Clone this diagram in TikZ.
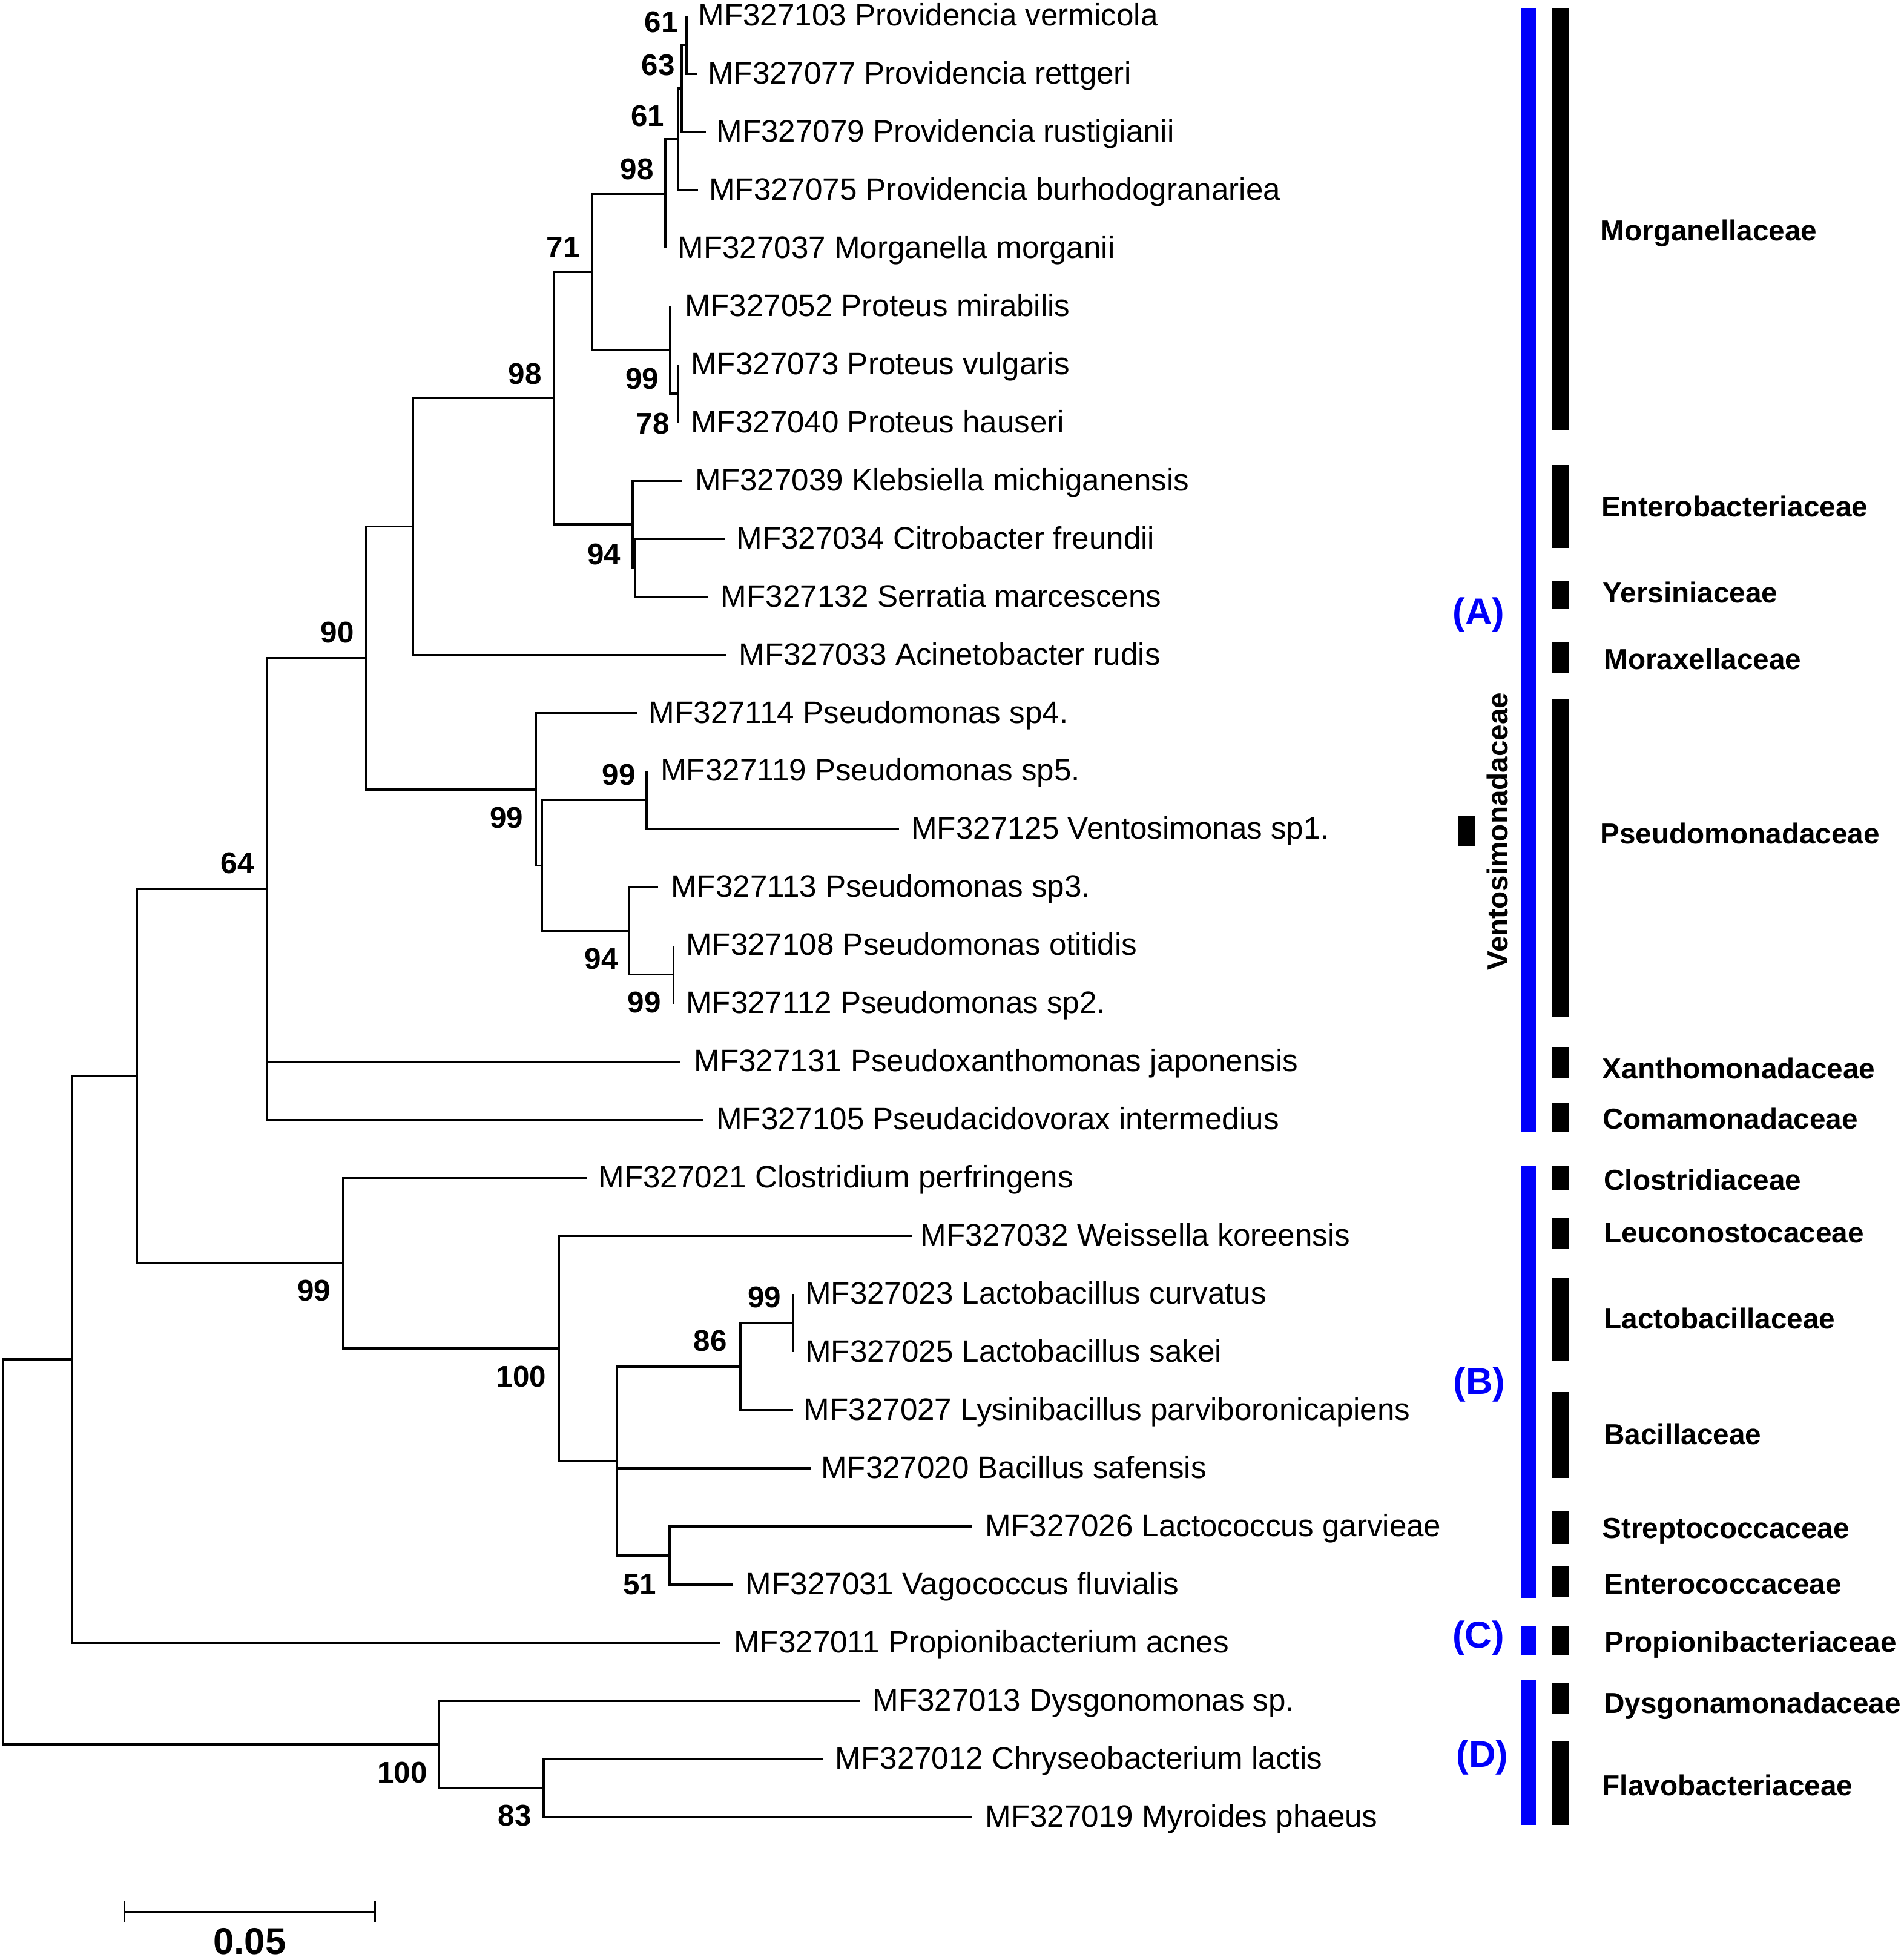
\documentclass[tikz,border=0pt]{standalone}
\usepackage{fontspec}
\setmainfont{Liberation Sans}
\begin{document}
\begin{tikzpicture}[x=0.02cm,y=-0.02cm,
  branch/.style={line width=1pt},
  taxon/.style={anchor=base west,inner sep=0pt,yshift=-0.158cm,font=\fontsize{14.1pt}{14.1pt}\selectfont},
  boot/.style={anchor=center,inner sep=0pt,font=\bfseries\fontsize{13.6pt}{13.6pt}\selectfont},
  fam/.style={anchor=base west,inner sep=0pt,font=\bfseries\fontsize{13.15pt}{13.15pt}\selectfont},
  cladelab/.style={anchor=center,inner sep=0pt,text=cladeblue,font=\bfseries\fontsize{17pt}{17pt}\selectfont},
  bluebar/.style={fill=cladeblue},
  blackbar/.style={fill=black}]
\definecolor{cladeblue}{RGB}{0,0,250}
\fill[white] (0,0) rectangle (1523,1568);
\useasboundingbox (0,0) rectangle (1523,1568);

% leaf ends
\coordinate (l1) at (549.4,12.7);
\coordinate (l2) at (557.9,59.2);
\coordinate (l3) at (564.7,105.7);
\coordinate (l4) at (558.5,152.1);
\coordinate (l5) at (532.4,198.6);
\coordinate (l6) at (536,245.1);
\coordinate (l7) at (542.6,291.6);
\coordinate (l8) at (542.6,338.1);
\coordinate (l9) at (546,384.5);
\coordinate (l10) at (580,431.0);
\coordinate (l11) at (566.4,477.5);
\coordinate (l12) at (581.2,524.0);
\coordinate (l13) at (509.6,570.5);
\coordinate (l14) at (517.2,616.9);
\coordinate (l15) at (719.3,663.4);
\coordinate (l16) at (526.7,709.9);
\coordinate (l17) at (538.8,756.4);
\coordinate (l18) at (538.8,802.9);
\coordinate (l19) at (544.4,849.3);
\coordinate (l20) at (563,895.8);
\coordinate (l21) at (469.7,942.3);
\coordinate (l22) at (729.4,988.8);
\coordinate (l23) at (634.8,1035.3);
\coordinate (l24) at (634.8,1081.7);
\coordinate (l25) at (634.5,1128.2);
\coordinate (l26) at (648.4,1174.7);
\coordinate (l27) at (778,1221.2);
\coordinate (l28) at (586.2,1267.7);
\coordinate (l29) at (576.1,1314.1);
\coordinate (l30) at (688,1360.6);
\coordinate (l31) at (658.5,1407.1);
\coordinate (l32) at (778,1453.6);

% internal nodes
\coordinate (nA) at (549.4,35.95);
\coordinate (nB) at (545.5,70.8);
\coordinate (nC) at (542.6,111.45);
\coordinate (nD) at (532.4,155.0);
\coordinate (nF) at (542.6,314.85);
\coordinate (nE) at (536,280.0);
\coordinate (nG) at (473.6,217.5);
\coordinate (nH) at (507.9,454.25);
\coordinate (nI) at (506.2,419.4);
\coordinate (nJ) at (443,318.45);
\coordinate (nK) at (330.3,421.2);
\coordinate (nL) at (517.2,640.15);
\coordinate (nM) at (538.8,779.65);
\coordinate (nN) at (503.6,744.8);
\coordinate (nO) at (433.6,692.5);
\coordinate (nP) at (428.8,631.5);
\coordinate (nQ) at (292.9,526.35);
\coordinate (nR) at (213.4,711.1);
\coordinate (nS) at (634.8,1058.5);
\coordinate (nT) at (592.4,1093.35);
\coordinate (nU) at (535.6,1244.45);
\coordinate (nV) at (493.8,1168.9);
\coordinate (nW) at (447.3,1078.85);
\coordinate (nX) at (274.6,1010.6);
\coordinate (nY) at (109.8,860.85);
\coordinate (nZ) at (57.8,1087.5);
\coordinate (nBB) at (435,1430.35);
\coordinate (nAA) at (351,1395.5);
\coordinate (root) at (2.7,1241.5);

% branches
\draw[branch] (nA) |- (l1) (nA) |- (l2);
\draw[branch] (nB) |- (nA) (nB) |- (l3);
\draw[branch] (nC) |- (nB) (nC) |- (l4);
\draw[branch] (nD) |- (nC) (nD) |- (l5);
\draw[branch] (nF) |- (l7) (nF) |- (l8);
\draw[branch] (nE) |- (l6) (nE) |- (nF);
\draw[branch] (nG) |- (nD) (nG) |- (nE);
\draw[branch] (nH) |- (l10) (nH) |- (l11);
\draw[branch] (nI) |- (l9) (nI) |- (nH);
\draw[branch] (nJ) |- (nG) (nJ) |- (nI);
\draw[branch] (nK) |- (nJ) (nK) |- (l12);
\draw[branch] (nL) |- (l14) (nL) |- (l15);
\draw[branch] (nM) |- (l17) (nM) |- (l18);
\draw[branch] (nN) |- (l16) (nN) |- (nM);
\draw[branch] (nO) |- (nL) (nO) |- (nN);
\draw[branch] (nP) |- (l13) (nP) |- (nO);
\draw[branch] (nQ) |- (nK) (nQ) |- (nP);
\draw[branch] (nR) |- (nQ) (nR) |- (l19) (nR) |- (l20);
\draw[branch] (nS) |- (l23) (nS) |- (l24);
\draw[branch] (nT) |- (nS) (nT) |- (l25);
\draw[branch] (nU) |- (l27) (nU) |- (l28);
\draw[branch] (nV) |- (nT) (nV) |- (l26) (nV) |- (nU);
\draw[branch] (nW) |- (l22) (nW) |- (nV);
\draw[branch] (nX) |- (l21) (nX) |- (nW);
\draw[branch] (nY) |- (nR) (nY) |- (nX);
\draw[branch] (nZ) |- (nY) (nZ) |- (l29);
\draw[branch] (nBB) |- (l31) (nBB) |- (l32);
\draw[branch] (nAA) |- (l30) (nAA) |- (nBB);
\draw[branch] (root) |- (nZ) (root) |- (nAA);

% taxa
\node[taxon] (t1) at (558.5,12.7) {MF327103 Providencia vermicola};
\node[taxon] (t2) at (566,59.2) {MF327077 Providencia rettgeri};
\node[taxon] (t3) at (573,105.7) {MF327079 Providencia rustigianii};
\node[taxon] (t4) at (567,152.1) {MF327075 Providencia burhodogranariea};
\node[taxon] (t5) at (542,198.6) {MF327037 Morganella morganii};
\node[taxon] (t6) at (547.5,245.1) {MF327052 Proteus mirabilis};
\node[taxon] (t7) at (552.5,291.6) {MF327073 Proteus vulgaris};
\node[taxon] (t8) at (552.5,338.1) {MF327040 Proteus hauseri};
\node[taxon] (t9) at (556,384.5) {MF327039 Klebsiella michiganensis};
\node[taxon] (t10) at (589,431.0) {MF327034 Citrobacter freundii};
\node[taxon] (t11) at (576.5,477.5) {MF327132 Serratia marcescens};
\node[taxon] (t12) at (590.8,524.0) {MF327033 Acinetobacter rudis};
\node[taxon] (t13) at (518.8,570.5) {MF327114 Pseudomonas sp4.};
\node[taxon] (t14) at (528.3,616.9) {MF327119 Pseudomonas sp5.};
\node[taxon] (t15) at (728.8,663.4) {MF327125 Ventosimonas sp1.};
\node[taxon] (t16) at (536.5,709.9) {MF327113 Pseudomonas sp3.};
\node[taxon] (t17) at (548.6,756.4) {MF327108 Pseudomonas otitidis};
\node[taxon] (t18) at (548.6,802.9) {MF327112 Pseudomonas sp2.};
\node[taxon] (t19) at (555,849.3) {MF327131 Pseudoxanthomonas japonensis};
\node[taxon] (t20) at (572.8,895.8) {MF327105 Pseudacidovorax intermedius};
\node[taxon] (t21) at (478.5,942.3) {MF327021 Clostridium perfringens};
\node[taxon] (t22) at (736.3,988.8) {MF327032 Weissella koreensis};
\node[taxon] (t23) at (644,1035.3) {MF327023 Lactobacillus curvatus};
\node[taxon] (t24) at (644,1081.7) {MF327025 Lactobacillus sakei};
\node[taxon] (t25) at (642.9,1128.2) {MF327027 Lysinibacillus parviboronicapiens};
\node[taxon] (t26) at (656.6,1174.7) {MF327020 Bacillus safensis};
\node[taxon] (t27) at (787.8,1221.2) {MF327026 Lactococcus garvieae};
\node[taxon] (t28) at (596.4,1267.7) {MF327031 Vagococcus fluvialis};
\node[taxon] (t29) at (586.9,1314.1) {MF327011 Propionibacterium acnes};
\node[taxon] (t30) at (698,1360.6) {MF327013 Dysgonomonas sp.};
\node[taxon] (t31) at (668,1407.1) {MF327012 Chryseobacterium lactis};
\node[taxon] (t32) at (788,1453.6) {MF327019 Myroides phaeus};

% bootstrap values
\node[boot] (b1) at (529,17.8) {61};
\node[boot] (b2) at (526.6,52.1) {63};
\node[boot] (b3) at (518.1,92.7) {61};
\node[boot] (b4) at (509.6,135.5) {98};
\node[boot] (b5) at (450.5,198.1) {71};
\node[boot] (b6) at (513.7,302.8) {99};
\node[boot] (b7) at (522.2,338.7) {78};
\node[boot] (b8) at (420,298.9) {98};
\node[boot] (b9) at (483.4,443.4) {94};
\node[boot] (b10) at (270,506) {90};
\node[boot] (b11) at (495.2,620) {99};
\node[boot] (b12) at (405.4,654.4) {99};
\node[boot] (b13) at (190,690.6) {64};
\node[boot] (b14) at (481.2,766.9) {94};
\node[boot] (b15) at (515.5,801.8) {99};
\node[boot] (b16) at (251.2,1032.7) {99};
\node[boot] (b17) at (417,1101.1) {100};
\node[boot] (b18) at (611.7,1038) {99};
\node[boot] (b19) at (568.2,1072.7) {86};
\node[boot] (b20) at (511.8,1267.4) {51};
\node[boot] (b21) at (321.8,1417.9) {100};
\node[boot] (b22) at (411.9,1452.7) {83};

% scale bar
\coordinate (sbL) at (99.6,1529.7);
\coordinate (sbR) at (300,1529.7);
\coordinate (sbLt) at (99.6,1521.2);
\coordinate (sbLb) at (99.6,1537.9);
\coordinate (sbRt) at (300,1521.2);
\coordinate (sbRb) at (300,1537.9);
\draw[branch] (sbL) -- (sbR);
\draw[branch] (sbLt) -- (sbLb);
\draw[branch] (sbRt) -- (sbRb);
\node[anchor=center,inner sep=0pt,font=\bfseries\fontsize{17pt}{17pt}\selectfont] (sblab) at (199.8,1553) {0.05};

% blue clade bars
\fill[bluebar] (1217.1,6.1) rectangle (1228.9,905.5);
\fill[bluebar] (1217.1,932.6) rectangle (1228.9,1278.1);
\fill[bluebar] (1217.1,1301) rectangle (1228.9,1324.1);
\fill[bluebar] (1217.1,1344.1) rectangle (1228.9,1459.8);

% black family bars
\fill[blackbar] (1241.9,6.1) rectangle (1255.6,343.9);
\fill[blackbar] (1241.9,372.1) rectangle (1255.6,438.4);
\fill[blackbar] (1241.9,464.5) rectangle (1255.6,486.6);
\fill[blackbar] (1241.9,513.4) rectangle (1255.6,538.5);
\fill[blackbar] (1241.9,558.9) rectangle (1255.6,813.5);
\fill[blackbar] (1241.9,837.5) rectangle (1255.6,862);
\fill[blackbar] (1241.9,882.4) rectangle (1255.6,905.5);
\fill[blackbar] (1241.9,932.6) rectangle (1255.6,952);
\fill[blackbar] (1241.9,974.1) rectangle (1255.6,998.6);
\fill[blackbar] (1241.9,1022.7) rectangle (1255.6,1089);
\fill[blackbar] (1241.9,1113.5) rectangle (1255.6,1182.4);
\fill[blackbar] (1241.9,1208.4) rectangle (1255.6,1235);
\fill[blackbar] (1241.9,1253.2) rectangle (1255.6,1277.4);
\fill[blackbar] (1241.9,1301) rectangle (1255.6,1324.1);
\fill[blackbar] (1241.9,1345.9) rectangle (1255.6,1371.5);
\fill[blackbar] (1241.9,1393) rectangle (1255.6,1459.8);
\fill[blackbar] (1166.3,653) rectangle (1180.6,676.7);

% family names
\node[fam] (f1) at (1280.2,192.5) {Morganellaceae};
\node[fam] (f2) at (1280.9,413.3) {Enterobacteriaceae};
\node[fam] (f3) at (1282,482.3) {Yersiniaceae};
\node[fam] (f4) at (1283,535.6) {Moraxellaceae};
\node[fam] (f5) at (1280.2,674.9) {Pseudomonadaceae};
\node[fam] (f6) at (1281.7,862.8) {Xanthomonadaceae};
\node[fam] (f7) at (1282,903.3) {Comamonadaceae};
\node[fam] (f8) at (1283,951.9) {Clostridiaceae};
\node[fam] (f9) at (1283,994.3) {Leuconostocaceae};
\node[fam] (f10) at (1283,1063.2) {Lactobacillaceae};
\node[fam] (f11) at (1283,1155.6) {Bacillaceae};
\node[fam] (f12) at (1281.7,1230.8) {Streptococcaceae};
\node[fam] (f13) at (1283,1275.3) {Enterococcaceae};
\node[fam] (f14) at (1283.5,1321.6) {Propionibacteriaceae};
\node[fam] (f15) at (1283,1370.6) {Dysgonamonadaceae};
\node[fam] (f16) at (1281.7,1436.6) {Flavobacteriaceae};
\node[anchor=center,inner sep=0pt,rotate=90,font=\bfseries\fontsize{13.15pt}{13.15pt}\selectfont] (vent) at (1198,665) {Ventosimonadaceae};

% clade letters
\node[cladelab] (cA) at (1183.2,491.7) {(A)};
\node[cladelab] (cB) at (1183.6,1107.6) {(B)};
\node[cladelab] (cC) at (1183,1310.7) {(C)};
\node[cladelab] (cD) at (1186,1406) {(D)};
\end{tikzpicture}
\end{document}
